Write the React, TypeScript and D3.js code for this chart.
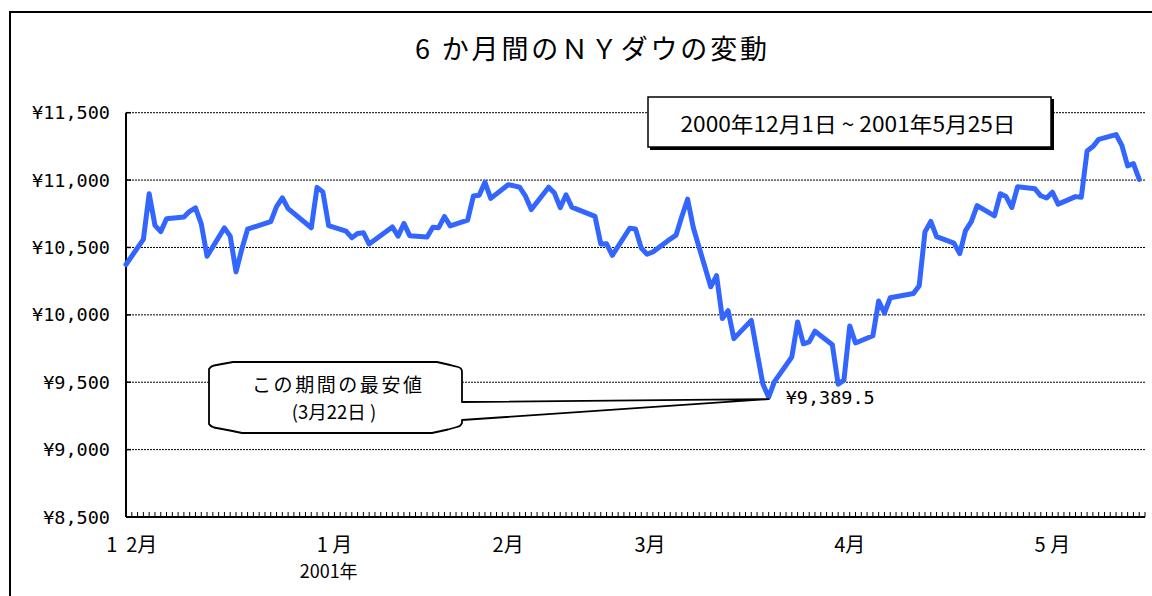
import React from 'react';
import * as d3 from 'd3';

// NY Dow closing values, Dec 1 2000 - May 25 2001 (trading days)
const tradingDays = [
  '2000-12-01', '2000-12-04', '2000-12-05', '2000-12-06', '2000-12-07', '2000-12-08',
  '2000-12-11', '2000-12-12', '2000-12-13', '2000-12-14', '2000-12-15',
  '2000-12-18', '2000-12-19', '2000-12-20', '2000-12-21', '2000-12-22',
  '2000-12-26', '2000-12-27', '2000-12-28', '2000-12-29',
  '2001-01-02', '2001-01-03', '2001-01-04', '2001-01-05',
  '2001-01-08', '2001-01-09', '2001-01-10', '2001-01-11', '2001-01-12',
  '2001-01-16', '2001-01-17', '2001-01-18', '2001-01-19',
  '2001-01-22', '2001-01-23', '2001-01-24', '2001-01-25', '2001-01-26',
  '2001-01-29', '2001-01-30', '2001-01-31', '2001-02-01', '2001-02-02',
  '2001-02-05', '2001-02-06', '2001-02-07', '2001-02-08', '2001-02-09',
  '2001-02-12', '2001-02-13', '2001-02-14', '2001-02-15', '2001-02-16',
  '2001-02-20', '2001-02-21', '2001-02-22', '2001-02-23',
  '2001-02-26', '2001-02-27', '2001-02-28', '2001-03-01', '2001-03-02',
  '2001-03-05', '2001-03-06', '2001-03-07', '2001-03-08', '2001-03-09',
  '2001-03-12', '2001-03-13', '2001-03-14', '2001-03-15', '2001-03-16',
  '2001-03-19', '2001-03-20', '2001-03-21', '2001-03-22', '2001-03-23',
  '2001-03-26', '2001-03-27', '2001-03-28', '2001-03-29', '2001-03-30',
  '2001-04-02', '2001-04-03', '2001-04-04', '2001-04-05', '2001-04-06',
  '2001-04-09', '2001-04-10', '2001-04-11', '2001-04-12',
  '2001-04-16', '2001-04-17', '2001-04-18', '2001-04-19', '2001-04-20',
  '2001-04-23', '2001-04-24', '2001-04-25', '2001-04-26', '2001-04-27',
  '2001-04-30', '2001-05-01', '2001-05-02', '2001-05-03', '2001-05-04',
  '2001-05-07', '2001-05-08', '2001-05-09', '2001-05-10', '2001-05-11',
  '2001-05-14', '2001-05-15', '2001-05-16', '2001-05-17', '2001-05-18',
  '2001-05-21', '2001-05-22', '2001-05-23', '2001-05-24', '2001-05-25',
];

const dowClose = [
  10373.54, 10560.1, 10898.72, 10664.38, 10617.36, 10712.91,
  10725.8, 10768.27, 10794.44, 10674.99, 10434.96,
  10645.42, 10584.37, 10318.93, 10487.29, 10635.56,
  10692.44, 10803.16, 10868.76, 10787.99,
  10646.15, 10945.75, 10912.41, 10662.01,
  10621.35, 10572.55, 10604.27, 10609.55, 10525.38,
  10652.66, 10584.34, 10678.28, 10587.59,
  10578.24, 10649.81, 10646.97, 10729.52, 10659.98,
  10702.19, 10881.2, 10887.36, 10983.63, 10864.1,
  10965.85, 10957.42, 10946.77, 10880.55, 10781.45,
  10946.72, 10903.32, 10795.41, 10891.02, 10799.82,
  10730.88, 10526.58, 10526.81, 10441.9,
  10642.53, 10636.88, 10495.28, 10450.14, 10466.31,
  10562.3, 10591.22, 10729.6, 10858.25, 10644.62,
  10208.25, 10290.8, 9973.46, 10031.28, 9823.41,
  9959.11, 9720.76, 9487.0, 9389.48, 9504.78,
  9687.53, 9947.54, 9785.35, 9799.06, 9878.78,
  9777.93, 9485.71, 9515.42, 9918.05, 9791.09,
  9845.15, 10102.74, 10013.47, 10126.94,
  10158.56, 10216.73, 10615.83, 10693.71, 10579.85,
  10532.23, 10454.34, 10625.2, 10692.35, 10810.05,
  10734.97, 10898.34, 10877.33, 10796.65, 10951.24,
  10935.17, 10883.51, 10866.98, 10910.44, 10821.31,
  10877.33, 10872.97, 11215.92, 11248.58, 11301.74,
  11337.92, 11257.24, 11105.51, 11122.42, 11005.37,
];

const yTicks = [8500, 9000, 9500, 10000, 10500, 11000, 11500];
const monthLabels = ['1  2月', '1 月', '2月', '3月', '4月', '5 月'];
const monthLabelDates = ['2000-12-02', '2001-01-06', '2001-02-05', '2001-03-01T12:00', '2001-04-05', '2001-05-10'];
const yearLabel = '2001年';
const yearLabelDate = '2001-01-05';

const title = '6 か月間のＮＹダウの変動';
const periodText = '2000年12月1日 ~ 2001年5月25日';
const calloutLines = ['この期間の最安値', '(3月22日 )'];

const parse = (s: string) => new Date(s.length > 10 ? s + 'Z' : s + 'T00:00Z');

const App = () => {
  const left = 126;
  const right = 1145;
  const top = 112.7;
  const bottom = 517;

  const x = d3.scaleUtc()
    .domain([parse('2000-12-01'), parse('2001-05-26')])
    .range([left, right]);
  const y = d3.scaleLinear().domain([8500, 11500]).range([bottom, top]);

  const points = tradingDays.map((d, i) => ({ date: parse(d), value: dowClose[i] }));
  const line = d3.line<{ date: Date; value: number }>()
    .x(d => x(d.date))
    .y(d => y(d.value));

  const dayTicks = d3.utcDay.range(parse('2000-12-01'), parse('2001-05-27'));

  const minIdx = d3.minIndex(dowClose);
  const minX = x(points[minIdx].date);
  const minY = y(points[minIdx].value);
  const fmt = (v: number) => '¥' + d3.format(',')(v);

  const jp = '"Noto Sans CJK JP", sans-serif';
  const mono = '"DejaVu Sans Mono", monospace';

  // callout outline with pointer to the low point
  const tipX = minX;
  const tipY = minY + 2;
  const callout = `M209,369 Q211,366 214,365.5 L222,364 L233,362 L437,362 L448,364.5 L458,367 Q462,368 462,372
    L462,402 L${tipX},${tipY} L462,420 L462,423 Q461,426 457,427 L448,429.5 L432,433 L242,433 L230,430.5
    L214,427.5 Q210,426 209,424 Z`;

  return (
    <svg width={1152} height={596} style={{ position: 'absolute', left: 0, top: 0, background: '#fff' }}>
      <rect x={10} y={12} width={1200} height={640} fill="#fff" stroke="#000" strokeWidth={2} />

      <text x={591} y={47} textAnchor="middle" dominantBaseline="central" fontFamily={jp} fontSize={27}
        textLength={352} lengthAdjust="spacing">{title}</text>

      {/* gridlines */}
      {yTicks.slice(1).map(t => (
        <line key={t} x1={left} x2={right} y1={y(t)} y2={y(t)} stroke="#000" strokeWidth={1} strokeDasharray="2,1" />
      ))}
      {yTicks.map(t => (
        <g key={'yt' + t}>
          <line x1={left} x2={left + 5} y1={y(t)} y2={y(t)} stroke="#000" strokeWidth={1.5} />
          <text x={110} y={y(t)} textAnchor="end" dominantBaseline="central" fontFamily={mono} fontSize={18.5}>{fmt(t)}</text>
        </g>
      ))}

      {/* x axis day ticks */}
      {dayTicks.map((d, i) => (
        <line key={i} x1={x(d)} x2={x(d)} y1={bottom} y2={bottom - 5} stroke="#000" strokeWidth={1} />
      ))}
      <line x1={left} x2={right} y1={bottom} y2={bottom} stroke="#000" strokeWidth={2} />
      <line x1={left} x2={left} y1={top} y2={bottom} stroke="#000" strokeWidth={2} />

      {monthLabels.map((m, i) => (
        <text key={m} x={x(parse(monthLabelDates[i]))} y={543} textAnchor="middle" dominantBaseline="central"
          fontFamily={jp} fontSize={20} style={{ whiteSpace: 'pre' }}>{m}</text>
      ))}
      <text x={x(parse(yearLabelDate))} y={570} textAnchor="middle" dominantBaseline="central"
        fontFamily={jp} fontSize={18}>{yearLabel}</text>

      {/* series */}
      <path d={line(points) || ''} fill="none" stroke="#3366FF" strokeWidth={5} strokeLinejoin="round" strokeLinecap="round" />

      {/* period box */}
      <rect x={650} y={99} width={404} height={51} fill="#000" />
      <rect x={648} y={97} width={403} height={50} fill="#fff" stroke="#000" strokeWidth={1.5} />
      <text x={848} y={123} textAnchor="middle" dominantBaseline="central" fontFamily={jp} fontSize={21}
        textLength={335} lengthAdjust="spacingAndGlyphs">{periodText}</text>

      {/* low point callout */}
      <path d={callout} fill="#fff" stroke="#000" strokeWidth={1.8} strokeLinejoin="round" />
      <text x={337} y={383} textAnchor="middle" dominantBaseline="central" fontFamily={jp} fontSize={19}
        textLength={170} lengthAdjust="spacing">{calloutLines[0]}</text>
      <text x={334} y={411} textAnchor="middle" dominantBaseline="central" fontFamily={jp} fontSize={18.5}
        style={{ whiteSpace: 'pre' }}>{calloutLines[1]}</text>
      <text x={minX + 17} y={minY} dominantBaseline="central" fontFamily={mono} fontSize={18.5}>
        {'¥' + d3.format(',.1f')(points[minIdx].value)}
      </text>
    </svg>
  );
};

export default App;
